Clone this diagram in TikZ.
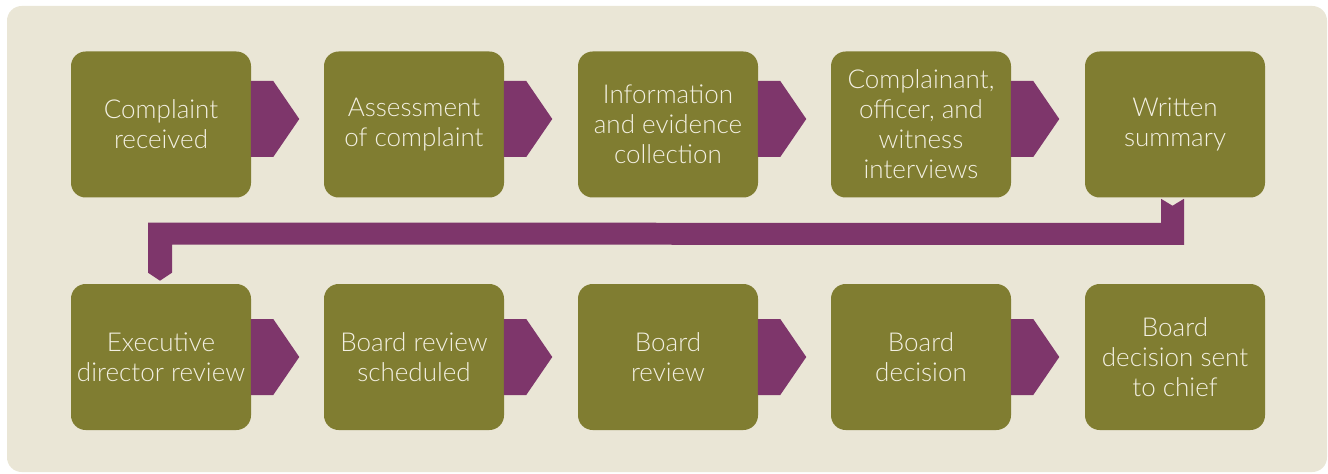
\documentclass[tikz,border=0pt]{standalone}
\usepackage{fontspec}
\setmainfont{Lato}[UprightFont={* Light}]
\usetikzlibrary{calc}
\definecolor{bgc}{HTML}{EAE6D6}
\definecolor{olive}{HTML}{807D31}
\definecolor{plum}{HTML}{7E366B}
\definecolor{cream}{HTML}{F3F0E2}
\tikzset{
  stepbox/.style={fill=olive, draw=none, rounded corners=11pt, minimum width=135pt, minimum height=109.5pt,
    inner sep=0pt, text=cream, align=center, font=\fontsize{19.5pt}{22.5pt}\selectfont},
  chev/.style={fill=plum, draw=none},
}
\begin{document}
\begin{tikzpicture}[x=0.75pt, y=-0.75pt]
\useasboundingbox (0,0) rectangle (1328,474);
\fill[bgc, rounded corners=11pt] (7,6) rectangle (1327,472);
% row 1
\node[stepbox] (b1) at (161,124.5) {Complaint\\received};
\node[stepbox] (b2) at (414,124.5) {Assessment\\of complaint};
\node[stepbox] (b3) at (668,124.5) {Information\\and evidence\\collection};
\node[stepbox] (b4) at (921,124.5) {Complainant,\\officer, and\\witness\\interviews};
\node[stepbox] (b5) at (1175,124.5) {Written\\summary};
% row 2
\node[stepbox] (b6) at (161,357) {Executive\\director review};
\node[stepbox] (b7) at (414,357) {Board review\\scheduled};
\node[stepbox] (b8) at (668,357) {Board\\review};
\node[stepbox] (b9) at (921,357) {Board\\decision};
\node[stepbox] (b10) at (1175,357) {Board\\decision sent\\to chief};
% chevrons row 1
\foreach \a in {b1,b2,b3,b4}{
  \fill[chev] ($(\a.east)+(-0.5,-43.5)$) -- ($(\a.east)+(22,-43.5)$) -- ($(\a.east)+(48,-5.5)$)
     -- ($(\a.east)+(22,32.5)$) -- ($(\a.east)+(-0.5,32.5)$) -- cycle;
}
% chevrons row 2
\foreach \a in {b6,b7,b8,b9}{
  \fill[chev] ($(\a.east)+(-0.5,-38)$) -- ($(\a.east)+(22,-38)$) -- ($(\a.east)+(48,0)$)
     -- ($(\a.east)+(22,38)$) -- ($(\a.east)+(-0.5,38)$) -- cycle;
}
% connector
\fill[chev] ($(b5.south)+(-14,1)$) -- ($(b5.south)+(-2.5,8)$) -- ($(b5.south)+(9,1)$)
  -- ($(b5.south)+(9,47)$) -- ($(b6.north)+(11,-39)$) -- ($(b6.north)+(11,-11)$)
  -- ($(b6.north)+(-1,-3)$) -- ($(b6.north)+(-13,-11)$) -- ($(b6.north)+(-13,-61)$)
  -- ($(b5.south)+(-14,25)$) -- cycle;
\end{tikzpicture}
\end{document}
